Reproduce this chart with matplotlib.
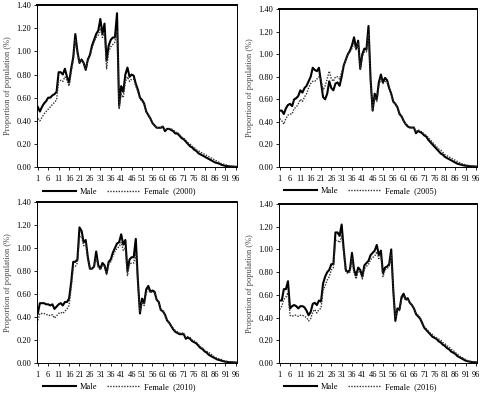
import numpy as np
import matplotlib
matplotlib.use("Agg")
import matplotlib.pyplot as plt

plt.rcParams['font.family'] = ['Liberation Serif', 'DejaVu Serif']

ages = list(range(1, 97))
years = ['2000', '2005', '2010', '2016']

male_2000 = [0.52, 0.48, 0.52, 0.55, 0.57, 0.60, 0.60, 0.62, 0.63, 0.65,
             0.82, 0.82, 0.80, 0.85, 0.78, 0.73, 0.85, 0.95, 1.15, 1.00,
             0.90, 0.93, 0.90, 0.84, 0.93, 0.97, 1.05, 1.10, 1.15, 1.18,
             1.28, 1.15, 1.24, 0.92, 1.05, 1.10, 1.12, 1.12, 1.33, 0.53,
             0.70, 0.65, 0.80, 0.86, 0.78, 0.80, 0.79, 0.72, 0.67, 0.60,
             0.58, 0.55, 0.48, 0.45, 0.42, 0.38, 0.36, 0.34, 0.34, 0.34,
             0.35, 0.31, 0.33, 0.33, 0.32, 0.31, 0.29, 0.29, 0.27, 0.25,
             0.24, 0.22, 0.20, 0.18, 0.17, 0.15, 0.14, 0.12, 0.11, 0.10,
             0.09, 0.08, 0.07, 0.06, 0.05, 0.04, 0.035, 0.03, 0.02, 0.015,
             0.01, 0.008, 0.006, 0.004, 0.003, 0.002]
female_2000 = [0.42, 0.40, 0.43, 0.46, 0.48, 0.50, 0.52, 0.54, 0.56, 0.58,
               0.74, 0.75, 0.74, 0.78, 0.75, 0.70, 0.82, 0.92, 1.10, 0.98,
               0.90, 0.92, 0.90, 0.84, 0.92, 0.96, 1.03, 1.08, 1.12, 1.14,
               1.20, 1.12, 1.16, 0.85, 1.00, 1.04, 1.06, 1.08, 1.18, 0.50,
               0.63, 0.60, 0.74, 0.78, 0.74, 0.76, 0.76, 0.70, 0.65, 0.59,
               0.57, 0.54, 0.48, 0.45, 0.42, 0.38, 0.36, 0.34, 0.34, 0.34,
               0.35, 0.32, 0.33, 0.33, 0.33, 0.32, 0.30, 0.30, 0.28, 0.26,
               0.25, 0.23, 0.21, 0.20, 0.18, 0.17, 0.15, 0.14, 0.13, 0.12,
               0.11, 0.10, 0.09, 0.08, 0.07, 0.06, 0.05, 0.04, 0.03, 0.025,
               0.02, 0.015, 0.01, 0.008, 0.005, 0.004]

male_2005 = [0.50, 0.50, 0.47, 0.52, 0.55, 0.56, 0.54, 0.60, 0.61, 0.63,
             0.68, 0.66, 0.70, 0.72, 0.76, 0.80, 0.88, 0.86, 0.85, 0.88,
             0.75, 0.62, 0.60, 0.65, 0.76, 0.70, 0.68, 0.74, 0.75, 0.72,
             0.80, 0.90, 0.95, 1.00, 1.03, 1.08, 1.15, 1.05, 1.12, 0.87,
             1.00, 1.05, 1.04, 1.25, 0.78, 0.50, 0.65, 0.60, 0.75, 0.82,
             0.75, 0.79, 0.77, 0.70, 0.65, 0.58, 0.56, 0.53, 0.47, 0.45,
             0.41, 0.38, 0.36, 0.35, 0.35, 0.35, 0.30, 0.32, 0.31, 0.30,
             0.28, 0.27, 0.24, 0.22, 0.20, 0.18, 0.16, 0.14, 0.12, 0.11,
             0.09, 0.08, 0.07, 0.06, 0.05, 0.04, 0.03, 0.025, 0.02, 0.015,
             0.012, 0.01, 0.008, 0.006, 0.005, 0.004]
female_2005 = [0.43, 0.41, 0.38, 0.43, 0.46, 0.47, 0.47, 0.52, 0.53, 0.56,
               0.60, 0.58, 0.62, 0.65, 0.70, 0.74, 0.76, 0.76, 0.78, 0.80,
               0.78, 0.68, 0.72, 0.78, 0.85, 0.78, 0.76, 0.80, 0.80, 0.78,
               0.84, 0.90, 0.95, 1.00, 1.02, 1.05, 1.10, 1.04, 1.10, 0.87,
               0.98, 1.02, 1.02, 1.18, 0.76, 0.50, 0.62, 0.58, 0.72, 0.78,
               0.74, 0.76, 0.75, 0.69, 0.64, 0.58, 0.56, 0.53, 0.48, 0.45,
               0.41, 0.38, 0.37, 0.35, 0.35, 0.35, 0.31, 0.33, 0.32, 0.31,
               0.29, 0.28, 0.26, 0.24, 0.22, 0.20, 0.18, 0.16, 0.15, 0.13,
               0.11, 0.10, 0.09, 0.08, 0.07, 0.06, 0.05, 0.04, 0.03, 0.025,
               0.02, 0.015, 0.012, 0.01, 0.008, 0.006]

male_2010 = [0.43, 0.52, 0.52, 0.52, 0.51, 0.51, 0.50, 0.51, 0.47, 0.49,
             0.51, 0.52, 0.50, 0.53, 0.53, 0.56, 0.70, 0.88, 0.88, 0.90,
             1.18, 1.15, 1.05, 1.07, 0.92, 0.82, 0.82, 0.84, 0.97, 0.85,
             0.82, 0.87, 0.85, 0.78, 0.88, 0.90, 0.96, 1.00, 1.04, 1.05,
             1.12, 1.03, 1.07, 0.80, 0.90, 0.92, 0.92, 1.08, 0.72, 0.43,
             0.56, 0.52, 0.64, 0.67, 0.62, 0.63, 0.62, 0.55, 0.53, 0.46,
             0.45, 0.42, 0.37, 0.35, 0.32, 0.29, 0.27, 0.26, 0.25, 0.25,
             0.25, 0.21, 0.22, 0.21, 0.19, 0.18, 0.17, 0.15, 0.13, 0.12,
             0.10, 0.09, 0.07, 0.06, 0.05, 0.04, 0.03, 0.025, 0.02, 0.015,
             0.01, 0.008, 0.006, 0.005, 0.004, 0.003]
female_2010 = [0.37, 0.43, 0.43, 0.43, 0.42, 0.42, 0.41, 0.42, 0.39, 0.41,
               0.43, 0.44, 0.43, 0.45, 0.47, 0.50, 0.65, 0.83, 0.84, 0.87,
               1.10, 1.10, 1.02, 1.04, 0.90, 0.82, 0.82, 0.84, 0.92, 0.83,
               0.81, 0.85, 0.84, 0.77, 0.86, 0.88, 0.93, 0.97, 1.00, 1.01,
               1.05, 0.98, 1.00, 0.76, 0.86, 0.87, 0.87, 0.95, 0.70, 0.45,
               0.53, 0.50, 0.61, 0.64, 0.61, 0.62, 0.61, 0.55, 0.53, 0.46,
               0.45, 0.42, 0.37, 0.35, 0.32, 0.30, 0.28, 0.27, 0.26, 0.26,
               0.26, 0.22, 0.23, 0.22, 0.20, 0.19, 0.18, 0.16, 0.14, 0.13,
               0.11, 0.10, 0.09, 0.08, 0.06, 0.05, 0.04, 0.035, 0.03, 0.02,
               0.015, 0.012, 0.01, 0.008, 0.006, 0.005]

male_2016 = [0.55, 0.55, 0.65, 0.65, 0.72, 0.48, 0.50, 0.51, 0.50, 0.48,
             0.50, 0.50, 0.49, 0.46, 0.42, 0.45, 0.52, 0.53, 0.51, 0.55,
             0.54, 0.70, 0.76, 0.80, 0.82, 0.87, 0.87, 1.15, 1.15, 1.12,
             1.22, 1.00, 0.82, 0.80, 0.82, 0.97, 0.82, 0.77, 0.84, 0.82,
             0.76, 0.86, 0.88, 0.90, 0.95, 0.97, 0.99, 1.04, 0.95, 0.99,
             0.79, 0.84, 0.85, 0.87, 1.00, 0.64, 0.37, 0.48, 0.47, 0.58,
             0.61, 0.56, 0.57, 0.53, 0.51, 0.48, 0.43, 0.41, 0.39, 0.35,
             0.31, 0.29, 0.27, 0.25, 0.23, 0.22, 0.21, 0.19, 0.18, 0.16,
             0.15, 0.13, 0.12, 0.10, 0.09, 0.08, 0.06, 0.05, 0.04, 0.03,
             0.02, 0.015, 0.01, 0.008, 0.006, 0.005]
female_2016 = [0.47, 0.50, 0.56, 0.58, 0.62, 0.42, 0.41, 0.42, 0.42, 0.41,
               0.42, 0.42, 0.41, 0.40, 0.37, 0.39, 0.45, 0.47, 0.44, 0.47,
               0.48, 0.64, 0.68, 0.73, 0.76, 0.82, 0.84, 1.08, 1.08, 1.06,
               1.12, 0.98, 0.80, 0.79, 0.80, 0.92, 0.79, 0.74, 0.81, 0.80,
               0.74, 0.83, 0.85, 0.87, 0.91, 0.93, 0.94, 0.98, 0.92, 0.95,
               0.76, 0.82, 0.83, 0.85, 0.95, 0.64, 0.40, 0.47, 0.46, 0.56,
               0.59, 0.55, 0.56, 0.53, 0.51, 0.48, 0.44, 0.42, 0.40, 0.36,
               0.32, 0.30, 0.28, 0.26, 0.25, 0.23, 0.22, 0.21, 0.20, 0.18,
               0.17, 0.15, 0.14, 0.12, 0.11, 0.09, 0.08, 0.06, 0.05, 0.04,
               0.03, 0.02, 0.015, 0.01, 0.008, 0.006]

males = [male_2000, male_2005, male_2010, male_2016]
females = [female_2000, female_2005, female_2010, female_2016]

# axes rectangles [left, bottom, width, height] in figure fractions
rects = [[0.077, 0.576, 0.417, 0.411],
         [0.581, 0.576, 0.413, 0.401],
         [0.077, 0.079, 0.417, 0.408],
         [0.581, 0.079, 0.413, 0.403]]

fig = plt.figure(figsize=(4.8, 3.94), dpi=100)
for i in range(4):
    ax = fig.add_axes(rects[i])
    ax.plot(ages, males[i], color='black', lw=1.5, label='Male')
    ax.plot(ages, females[i], color='#333333', lw=1.0, ls=(0, (1, 1)),
            label='Female  (%s)' % years[i])
    ax.set_xlim(0.6, 96.6)
    ax.set_ylim(0, 1.4)
    ax.set_xticks(list(range(1, 97, 5)))
    ax.set_yticks(np.arange(0, 1.41, 0.2))
    ax.set_yticklabels(['%.2f' % v for v in np.arange(0, 1.41, 0.2)])
    ax.tick_params(labelsize=6, length=2, width=0.6, pad=2)
    ax.tick_params(axis='x', pad=4)
    ax.set_ylabel('Proportion of population (%)', fontsize=6, labelpad=3,
                  color='#444444')
    for s in ax.spines.values():
        s.set_linewidth(0.7)
    ax.spines['top'].set_linewidth(1.4)
    ax.legend(loc='upper center', bbox_to_anchor=(0.41, -0.08), ncol=2,
              frameon=False, fontsize=6, handlelength=4, columnspacing=1.2,
              handletextpad=0.4)

fig.savefig('out.png', dpi=100)
